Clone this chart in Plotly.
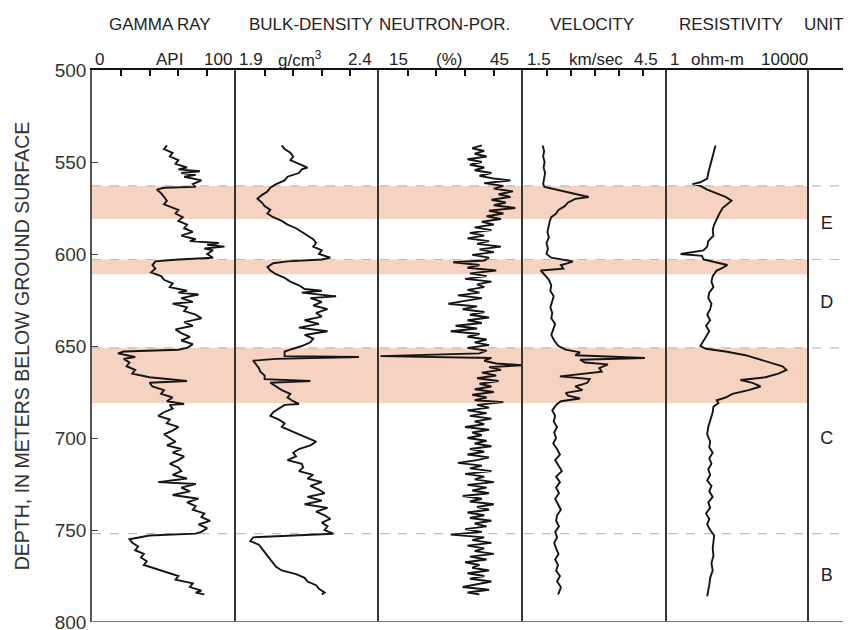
import plotly.graph_objects as go
from plotly.subplots import make_subplots

# ---------------- data ----------------
track_titles = ["GAMMA RAY", "BULK-DENSITY", "NEUTRON-POR.", "VELOCITY", "RESISTIVITY", "UNIT"]
scale_left = ["0", "1.9", "15", "1.5", "1"]
scale_unit = ["API", "g/cm<sup>3</sup>", "(%)", "km/sec", "ohm-m"]
scale_right = ["100", "2.4", "45", "4.5", "10000"]
depth_ticks = [500, 550, 600, 650, 700, 750, 800]

band_tops = [563, 603, 651]
band_bottoms = [581, 611, 681]
boundary_depths = [563, 603, 651, 752]
units = ["E", "D", "C", "B"]
unit_depths = [584, 627, 701, 775]

gamma_depth = [541, 543, 545, 547, 549, 551, 553, 554, 555, 556, 557, 558, 560, 562, 563.5, 564, 565, 567, 569, 571,
               573, 575, 576, 578, 580, 582, 584, 586, 588, 590, 592, 593, 594, 595, 596, 597, 598, 600, 602, 603,
               604, 606, 608, 610, 612, 614, 616, 618, 620, 621, 622, 624, 626, 627, 629, 631, 633, 635, 637, 639,
               641, 643, 645, 647, 649, 651, 652, 653, 654, 656, 657, 659, 661, 663, 665, 667, 669, 670, 672, 674,
               676, 678, 680, 681.5, 682, 684, 686, 688, 690, 692, 694, 696, 698, 700, 702, 704, 706, 708, 710, 712,
               714, 716, 718, 720, 722, 724, 725, 727, 729, 731, 733, 735, 737, 739, 741, 743, 745, 747, 749, 751,
               752, 753, 755, 757, 759, 761, 763, 765, 767, 769, 771, 773, 775, 777, 779, 781, 783, 784, 785]
gamma_api = [52, 50, 56, 54, 60, 58, 66, 60, 75, 62, 72, 64, 76, 70, 72, 50, 45, 48, 50, 52,
             50, 56, 60, 58, 63, 60, 66, 64, 70, 62, 72, 68, 88, 80, 92, 78, 84, 80, 84, 60,
             44, 42, 44, 41, 48, 50, 56, 54, 66, 60, 74, 62, 70, 56, 66, 64, 72, 76, 64, 70,
             58, 62, 68, 62, 70, 66, 60, 22, 18, 30, 22, 26, 24, 30, 28, 40, 66, 40, 42, 50,
             48, 56, 52, 64, 54, 56, 50, 46, 54, 52, 60, 56, 50, 54, 58, 52, 62, 56, 64, 60,
             54, 60, 62, 56, 66, 46, 72, 62, 68, 56, 74, 66, 72, 70, 78, 76, 82, 74, 80, 76,
             72, 40, 26, 28, 32, 30, 36, 34, 38, 36, 44, 52, 60, 58, 70, 68, 76, 72, 78]

density_depth = [541, 543, 545, 547, 549, 551, 553, 554, 556, 558, 560, 562, 564, 566, 568, 570, 572, 574, 576, 578,
                 580, 582, 584, 586, 588, 590, 592, 594, 596, 598, 600, 602, 603, 604, 605, 607, 609, 611, 613, 615,
                 617, 619, 620, 621, 623, 624, 626, 628, 630, 632, 634, 636, 638, 640, 642, 644, 646, 648, 650, 652,
                 653, 655.5, 656, 657, 658, 660, 662, 664, 666, 668, 669, 670, 672, 674, 676, 678, 680, 681.5, 682, 684,
                 686, 688, 690, 692, 694, 696, 698, 700, 702, 704, 706, 708, 710, 712, 714, 716, 718, 720, 722, 724,
                 726, 728, 730, 732, 734, 736, 738, 740, 742, 744, 746, 748, 750, 752, 753, 754, 756, 758, 760, 762,
                 764, 766, 768, 770, 772, 774, 776, 778, 780, 782, 784, 785]
density_gcc = [2.06, 2.07, 2.09, 2.10, 2.09, 2.12, 2.15, 2.13, 2.12, 2.08, 2.07, 2.04, 2.02, 2.01, 1.99, 1.975, 1.99, 2.00, 2.02, 2.01,
               2.03, 2.06, 2.08, 2.11, 2.13, 2.15, 2.17, 2.18, 2.17, 2.20, 2.19, 2.23, 2.20, 2.08, 2.03, 2.01, 2.02, 2.04, 2.07, 2.09,
               2.12, 2.14, 2.20, 2.13, 2.25, 2.16, 2.20, 2.17, 2.22, 2.18, 2.20, 2.14, 2.19, 2.12, 2.22, 2.14, 2.17, 2.16, 2.13, 2.09,
               2.07, 2.07, 2.33, 2.04, 1.96, 1.97, 1.98, 1.985, 2.00, 2.00, 2.16, 2.02, 2.04, 2.06, 2.09, 2.08, 2.10, 2.12, 2.07, 2.05,
               2.03, 2.02, 2.05, 2.07, 2.06, 2.09, 2.12, 2.15, 2.18, 2.16, 2.12, 2.10, 2.11, 2.08, 2.13, 2.135, 2.12, 2.17, 2.15, 2.20,
               2.16, 2.19, 2.21, 2.15, 2.20, 2.14, 2.22, 2.18, 2.21, 2.23, 2.20, 2.22, 2.21, 2.24, 2.10, 1.96, 1.95, 1.98, 1.99, 2.00,
               2.01, 2.02, 2.03, 2.04, 2.06, 2.11, 2.14, 2.15, 2.18, 2.19, 2.21, 2.20]

neutron_depth = [541, 542.5, 544, 545.5, 547, 548.5, 550, 551.5, 553, 554.5, 556, 557.5, 559, 560, 561.5, 563, 564.5, 566, 567.5, 569,
                 570.5, 572, 573.5, 575, 576.5, 578, 579.5, 581, 582.5, 584, 585.5, 587, 588.5, 590, 591.5, 593, 594.5, 596, 597.5, 599,
                 600.5, 602, 603.5, 604.5, 606, 607.5, 609, 610.5, 612, 613.5, 615, 616.5, 618, 619.5, 621, 622.5, 624, 625.5, 627, 628.5,
                 630, 631.5, 633, 634.5, 636, 637.5, 639, 640.5, 642, 643.5, 645, 646.5, 648, 649.5, 651, 652.5, 654, 655.5, 656.5, 658,
                 659.5, 660.5, 661.5, 663, 664.5, 666, 667.5, 669, 670.5, 672, 673.5, 675, 676.5, 678, 679.5, 680.5, 682, 683.5, 685, 686.5,
                 688, 689.5, 691, 692.5, 694, 695.5, 697, 698.5, 700, 701.5, 703, 704.5, 706, 707.5, 709, 710.5, 712, 713.5, 715, 716.5,
                 718, 719.5, 721, 722.5, 724, 725.5, 727, 728.5, 730, 731.5, 733, 734.5, 736, 737.5, 739, 740.5, 742, 743.5, 745, 746.5,
                 748, 749.5, 751, 752.5, 754, 755.5, 757, 758.5, 760, 761.5, 763, 764.5, 766, 767.5, 769, 770.5, 772, 773.5, 775, 776.5,
                 778, 779.5, 781, 782.5, 784, 785]
neutron_pct = [36.5, 34.5, 37.0, 35.0, 37.5, 33.5, 36.5, 34.0, 37.0, 35.0, 38.5, 36.0, 39.0, 42.5, 37.0, 41.0, 39.0, 43.0, 40.0, 42.5,
               38.5, 41.5, 39.0, 43.5, 38.0, 41.0, 37.5, 40.5, 36.5, 39.0, 35.0, 38.5, 34.0, 37.0, 33.5, 38.0, 35.5, 40.5, 36.0, 39.0,
               34.5, 38.0, 37.0, 30.5, 36.0, 33.5, 39.5, 34.0, 37.5, 33.0, 38.5, 35.5, 37.0, 33.5, 36.0, 31.5, 36.5, 33.0, 29.5, 35.5,
               32.5, 37.0, 34.0, 38.0, 33.5, 36.5, 31.0, 35.5, 30.0, 36.0, 33.5, 37.5, 35.0, 38.0, 33.5, 37.5, 36.0, 15.3, 38.5, 37.0,
               39.5, 45.0, 38.0, 40.5, 36.5, 39.5, 35.5, 40.0, 36.0, 38.5, 35.0, 39.0, 34.5, 37.5, 35.0, 41.0, 35.5, 38.0, 33.5, 37.5,
               34.0, 38.5, 35.0, 37.0, 33.0, 38.0, 34.5, 36.5, 33.5, 37.5, 35.0, 38.5, 34.0, 37.0, 33.5, 38.0, 35.5, 31.5, 36.5, 34.0,
               38.5, 33.0, 37.0, 35.0, 39.0, 33.5, 37.5, 34.5, 38.0, 32.5, 36.5, 34.0, 39.0, 35.5, 38.0, 33.5, 37.0, 34.0, 38.5, 35.0,
               37.5, 33.0, 36.5, 30.0, 37.0, 34.5, 38.5, 33.5, 37.0, 35.0, 39.0, 34.0, 37.5, 33.0, 36.0, 34.5, 38.0, 33.5, 37.0, 34.0,
               38.5, 35.5, 32.5, 38.0, 33.5, 36.0]

velocity_depth = [541, 544, 547, 550, 553, 556, 559, 562, 563.5, 565, 567, 569, 570, 572, 574, 576, 578, 580, 582, 585,
                  588, 591, 594, 597, 600, 602, 603, 604, 605, 606, 608, 609, 611, 614, 617, 620, 623, 626, 629, 632,
                  635, 638, 641, 644, 647, 650, 652, 653.5, 655, 656.5, 657.5, 659, 660, 662, 664, 665, 666.5, 668, 670, 672,
                  674, 675.5, 677, 678.5, 680, 682, 685, 688, 691, 694, 697, 700, 703, 706, 709, 712, 715, 718, 721, 724,
                  727, 730, 733, 736, 739, 742, 745, 748, 751, 754, 757, 760, 763, 766, 769, 772, 775, 778, 781, 784, 785]
velocity_kms = [1.92, 1.95, 1.93, 1.96, 1.94, 1.97, 1.95, 1.93, 1.96, 2.20, 2.50, 2.88, 2.60, 2.45, 2.38, 2.25, 2.20, 2.10, 2.07, 2.05,
                2.02, 2.05, 2.00, 2.03, 2.00, 2.10, 2.30, 2.55, 2.45, 2.30, 2.35, 1.88, 1.95, 2.05, 2.10, 2.08, 2.15, 2.12, 2.08, 2.12,
                2.10, 2.18, 2.14, 2.10, 2.16, 2.25, 2.40, 2.70, 2.60, 4.05, 2.70, 2.80, 3.28, 3.10, 3.15, 2.85, 2.28, 2.90, 2.85, 2.60,
                2.75, 2.40, 2.45, 2.70, 2.30, 2.20, 2.12, 2.18, 2.15, 2.22, 2.16, 2.20, 2.14, 2.22, 2.28, 2.18, 2.25, 2.32, 2.20, 2.28,
                2.20, 2.26, 2.18, 2.24, 2.30, 2.22, 2.20, 2.26, 2.18, 2.22, 2.16, 2.20, 2.25, 2.18, 2.24, 2.20, 2.28, 2.22, 2.30, 2.26, 2.24]

resist_depth = [541, 545, 549, 553, 556, 559, 561, 562, 563, 565, 567, 569, 571, 573, 575, 578, 581, 584, 587, 590,
                593, 596, 598, 600, 601, 603, 604.5, 606, 607.5, 609, 612, 615, 618, 621, 624, 627, 630, 633, 636, 639,
                642, 645, 648, 650, 651.5, 653, 655, 657, 659, 661, 663, 665, 667, 668.5, 670, 672, 674, 676, 678, 679.5,
                681, 683, 686, 690, 694, 698, 702, 705, 708, 711, 714, 717, 720, 723, 726, 729, 732, 735, 738, 741,
                744, 747, 750, 753, 756, 760, 764, 768, 772, 776, 780, 783, 786]
resist_ohmm = [24, 21, 18.6, 16, 15, 14, 9, 5.4, 9, 14, 24, 46, 68, 49, 38, 31, 26, 22, 20, 21,
               15, 14, 11, 2.5, 10, 11, 24, 52, 38, 26, 20, 18.5, 21, 16, 15, 18.5, 17, 14, 17, 13,
               16, 13, 10, 9, 13, 46, 168, 390, 850, 1850, 2400, 1420, 610, 121, 265, 445, 205, 72, 46, 26,
               29, 21, 20, 17, 15, 14, 17, 16, 20, 16, 18.5, 15, 17, 14, 18.5, 16, 20, 15, 17, 13,
               16, 14, 17, 22, 21, 20, 21, 18.5, 20, 17, 16, 15, 14]

# ---------------- layout geometry (reference pixel coords; page body has an 8px margin) ----------------
OFF = 8
W, H = 851 - OFF, 630 - OFF
PLOT_L, PLOT_R, PLOT_T, PLOT_B = 92, 845, 70, 622
ML, MR, MT, MB = PLOT_L - OFF, W - (PLOT_R - OFF), PLOT_T - OFF, H - (PLOT_B - OFF)
bounds_px = [92, 236, 379, 522.5, 666.5, 808.5, 845]
PW = PLOT_R - PLOT_L
PH = PLOT_B - PLOT_T


def px2paper(px):
    return (px - PLOT_L) / PW


def py_above(py):
    return 1 + (PLOT_T - py) / PH


fig = make_subplots(rows=1, cols=6, shared_yaxes=True, horizontal_spacing=0)

line_style = dict(color="#141414", width=1.9)
curves = [
    (gamma_api, gamma_depth),
    (density_gcc, density_depth),
    (neutron_pct, neutron_depth),
    (velocity_kms, velocity_depth),
    (resist_ohmm, resist_depth),
]
for i, (xv, yv) in enumerate(curves):
    fig.add_trace(go.Scatter(x=xv, y=yv, mode="lines", line=line_style, showlegend=False,
                             hoverinfo="skip"), row=1, col=i + 1)

fig.add_trace(go.Scatter(x=[0.5] * len(units), y=unit_depths, mode="text", text=units,
                         textfont=dict(size=18, color="#222", family="Liberation Sans, Arial"),
                         showlegend=False, hoverinfo="skip"), row=1, col=6)

x_ranges = [[0, 100], [1.9, 2.4], [15, 45], [1.5, 4.5], [0, 4], [0, 1]]
x_dticks = [20, 0.1, 6, 0.5, None, None]
for i in range(6):
    ax = dict(
        domain=[px2paper(bounds_px[i]), px2paper(bounds_px[i + 1])],
        range=x_ranges[i], side="top", showline=True, linecolor="#111", linewidth=2,
        showgrid=False, zeroline=False, showticklabels=False, fixedrange=True,
    )
    if x_dticks[i] is not None:
        ax.update(ticks="inside", ticklen=6, tickwidth=1.5, tickcolor="#111",
                  tick0=x_ranges[i][0], dtick=x_dticks[i])
    else:
        ax.update(ticks="")
    if i == 4:
        ax.update(type="log")
    fig.layout["xaxis" + ("" if i == 0 else str(i + 1))].update(ax)

for i in range(6):
    ay = dict(range=[800, 500], showline=True, mirror=(i == 5), linecolor="#333", linewidth=1.6,
              showgrid=False, zeroline=False, fixedrange=True)
    if i == 0:
        ay.update(tickvals=depth_ticks, ticks="inside", ticklen=6, tickwidth=1.4, tickcolor="#444",
                  linecolor="#555", ticklabeloverflow="allow",
                  tickfont=dict(size=19, color="#333", family="Liberation Sans, Arial"),
                  automargin=False,
                  title=dict(text="DEPTH, IN METERS BELOW GROUND SURFACE", standoff=20,
                             font=dict(size=19.5, color="#333", family="Liberation Sans, Arial")))
    else:
        ay.update(ticks="", showticklabels=False)
    fig.layout["yaxis" + ("" if i == 0 else str(i + 1))].update(ay)

shapes = []
for t, b in zip(band_tops, band_bottoms):
    shapes.append(dict(type="rect", xref="paper", yref="y", x0=0, x1=px2paper(bounds_px[5]),
                       y0=t, y1=b, fillcolor="#F6D3C0", line=dict(width=0), layer="below"))
for d in boundary_depths:
    shapes.append(dict(type="line", xref="paper", yref="y", x0=0, x1=1, y0=d, y1=d,
                       line=dict(color="#BDBDBD", width=1.2, dash="dash"), layer="below"))
shapes.append(dict(type="line", xref="paper", yref="y", x0=0, x1=1, y0=800, y1=800,
                   line=dict(color="#777", width=2)))

font_txt = dict(size=17, color="#222", family="Liberation Sans, Arial")
annotations = []
title_centers = [160, 311, 444, 592, 731, 824]
for title, cx in zip(track_titles, title_centers):
    annotations.append(dict(text=title, x=px2paper(cx), y=py_above(24), xref="paper", yref="paper",
                            xanchor="center", yanchor="middle", showarrow=False, font=font_txt))
unit_centers = [169, 300, 449, 596, 717]
left_px = [93, 237, 387, 525, 668]
right_px = [234, 374, 511, 660, 810]
for i in range(5):
    annotations.append(dict(text=scale_left[i], x=px2paper(left_px[i]), y=py_above(59), xref="paper",
                            yref="paper", xanchor="left", yanchor="middle", showarrow=False, font=font_txt))
    annotations.append(dict(text=scale_unit[i], x=px2paper(unit_centers[i]), y=py_above(59), xref="paper",
                            yref="paper", xanchor="center", yanchor="middle", showarrow=False, font=font_txt))
    annotations.append(dict(text=scale_right[i], x=px2paper(right_px[i]), y=py_above(59), xref="paper",
                            yref="paper", xanchor="right", yanchor="middle", showarrow=False, font=font_txt))

fig.update_layout(
    width=W, height=H,
    margin=dict(l=ML, r=MR, t=MT, b=MB, autoexpand=False),
    paper_bgcolor="white", plot_bgcolor="white",
    shapes=shapes, annotations=annotations,
    font=dict(family="Liberation Sans, Arial"),
)

fig.write_html("out.html")
